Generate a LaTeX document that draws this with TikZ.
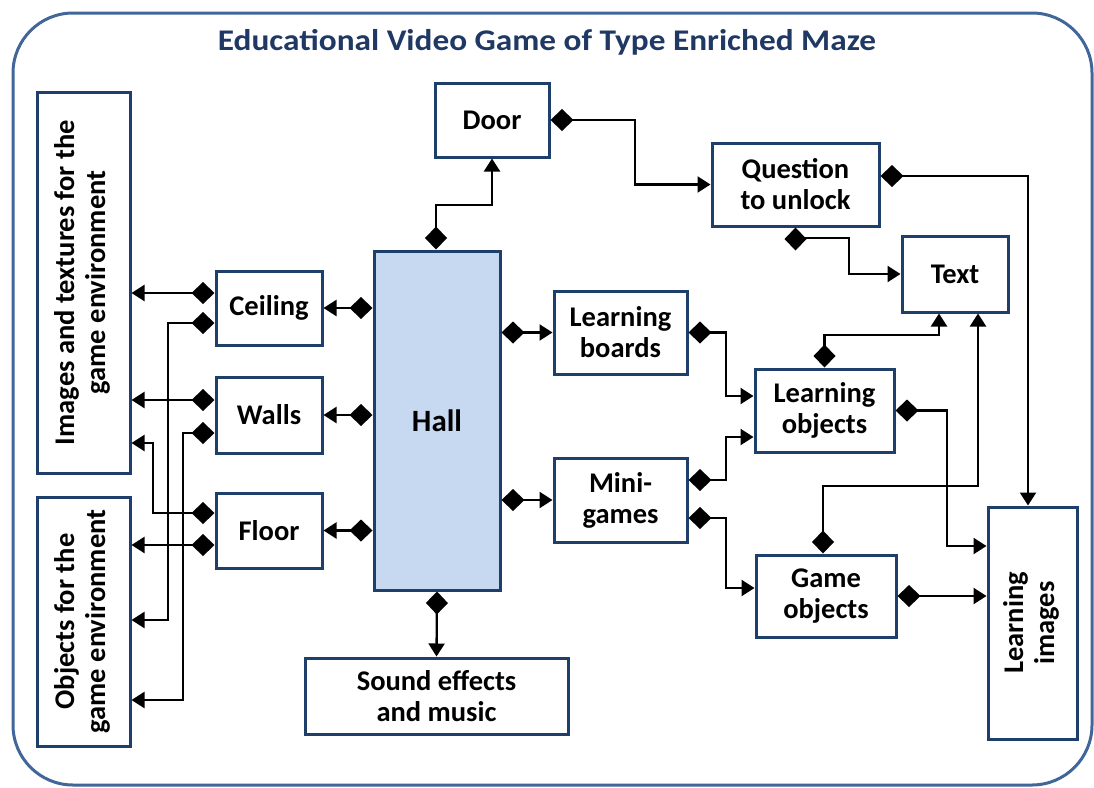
\documentclass[tikz,border=0pt]{standalone}
\usepackage{fontspec}
\setmainfont{Carlito}
\usetikzlibrary{arrows.meta,calc}
\definecolor{boxblue}{HTML}{1F3F6B}
\definecolor{frameblue}{HTML}{41679A}
\definecolor{titleblue}{HTML}{1F3864}
\definecolor{hallfill}{HTML}{C6D9F1}
\newcommand\boxfont{\bfseries\fontsize{28.5}{31}\selectfont}
\newcommand\twolines[2]{\begin{tabular}{@{}c@{}}#1\\#2\end{tabular}}
\begin{document}
\begin{tikzpicture}[x=1pt,y=-1pt,
  box/.style={draw=boxblue, line width=3pt, fill=white, inner sep=0pt,
    align=center, font=\boxfont, text=black},
  conn/.style={line width=2.3pt,
    {Diamond[length=23pt,width=22pt]}-{Triangle[length=13pt,width=16pt]}},
  plain/.style={line width=2.3pt, -{Triangle[length=13pt,width=16pt]}},
  dtip/.style={line width=2.3pt, {Diamond[length=23pt,width=22pt]}-},
]
\useasboundingbox (0,0) rectangle (1094,787);
\draw[frameblue, line width=3pt, rounded corners=60pt] (13,13) rectangle (1092,785);

\node[font=\bfseries\fontsize{30}{32}\selectfont, text=titleblue] (title) at (547,42)
  {\scalebox{1.11}[1]{Educational Video Game of Type Enriched Maze}};

% boxes
\node[box, minimum width=93pt, minimum height=381pt] (img) at (83.5,282.5)
  {\rotatebox{90}{\twolines{Images and textures for the}{game environment}}};
\node[box, minimum width=93pt, minimum height=249pt] (obj) at (83.5,621.5)
  {\rotatebox{90}{\twolines{Objects for the}{game environment}}};
\node[box, minimum width=106pt, minimum height=74pt] (ceil) at (269,308) {Ceiling};
\node[box, minimum width=106pt, minimum height=76pt] (walls) at (269,415) {Walls};
\node[box, minimum width=106pt, minimum height=75pt] (floor) at (269,530.5) {Floor};
\node[box, fill=hallfill, minimum width=126pt, minimum height=339pt,
  font=\bfseries\fontsize{31}{33}\selectfont] (hall) at (437,420.5) {Hall};
\node[box, minimum width=114pt, minimum height=74pt] (door) at (492,120) {Door};
\node[box, minimum width=167pt, minimum height=83pt] (quest) at (795.5,184.5)
  {Question\\to unlock};
\node[box, minimum width=106pt, minimum height=76pt] (text) at (955,274) {Text};
\node[box, minimum width=133pt, minimum height=83pt] (lboards) at (620.5,332.5)
  {Learning\\boards};
\node[box, minimum width=139pt, minimum height=83pt] (lobj) at (824.5,410.5)
  {Learning\\objects};
\node[box, minimum width=133pt, minimum height=84pt] (mini) at (620.5,500)
  {Mini-\\games};
\node[box, minimum width=140pt, minimum height=82pt] (gobj) at (826,596)
  {Game\\objects};
\node[box, minimum width=89pt, minimum height=232pt] (limg) at (1032.5,623)
  {\rotatebox{90}{\twolines{Learning}{images}}};
\node[box, minimum width=263pt, minimum height=76pt] (sound) at (436.5,696)
  {Sound effects\\and music};

% left side: surfaces to their image and object resources
\draw[conn] (ceil.west |- 0,293) -- (img.east |- 0,293);
\draw[conn] (ceil.west |- 0,323) -| (168,620) -- (obj.east |- 0,620);
\draw[conn] (walls.west |- 0,400) -- (img.east |- 0,400);
\draw[conn] (walls.west |- 0,433) -| (183,700) -- (obj.east |- 0,700);
\draw[conn] (floor.west |- 0,513) -| (153,443) -- (img.east |- 0,443);
\draw[conn] (floor.west |- 0,545) -- (obj.east |- 0,545);

% hall to its parts
\draw[conn] (hall.west |- ceil.east) -- (ceil.east);
\draw[conn] (hall.west |- walls.east) -- (walls.east);
\draw[conn] (hall.west |- floor.east) -- (floor.east);
\draw[conn] (hall.east |- lboards.west) -- (lboards.west);
\draw[conn] (hall.east |- mini.west) -- (mini.west);
\draw[conn] (hall.south) -- (sound.north);
\draw[conn] (hall.north -| 436,0) |- (door.south |- 0,205) -- (door.south);

% door and question
\draw[conn] (door.east) -| (quest.west -| 635,0) -- (quest.west);
\draw[dtip] (quest.south) -- ++(0,19);
\draw[plain] (quest.south |- 0,238) -| (849,274) -- (text.west);
\draw[conn] (quest.east |- 0,176) -| (limg.north -| 1028,0);

% learning boards and mini-games
\draw[conn] (lboards.east) -| (726,396) -- (lobj.west |- 0,396);
\draw[conn] (mini.east |- 0,480) -| (726,437) -- (lobj.west |- 0,437);
\draw[conn] (mini.east |- 0,518) -| (726,588) -- (gobj.west |- 0,588);

% objects to text and images
\draw[conn] (lobj.north) |- (939,335) -- (text.south -| 939,0);
\draw[conn] (gobj.north -| 823,0) |- (978,486) -- (text.south -| 978,0);
\draw[conn] (lobj.east) -| (947,546) -- (limg.west |- 0,546);
\draw[conn] (gobj.east) -- (limg.west |- gobj.east);
\end{tikzpicture}
\end{document}
